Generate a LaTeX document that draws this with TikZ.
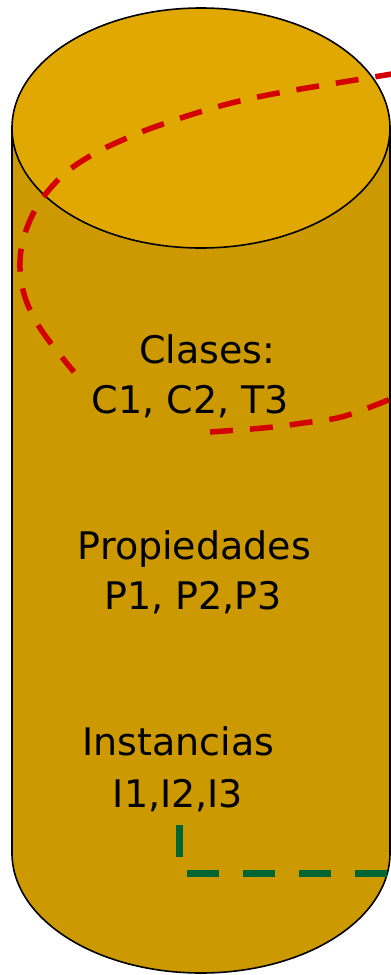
\documentclass[tikz,border=0pt]{standalone}
\usepackage{fontspec}
\setmainfont{DejaVu Sans}
\definecolor{bodyc}{RGB}{204,153,0}
\definecolor{topc}{RGB}{224,168,0}
\definecolor{redc}{RGB}{212,0,0}
\definecolor{greenc}{RGB}{0,102,51}
\begin{document}
\begin{tikzpicture}[x=1pt,y=-1pt,
  outline/.style={draw=black,line width=1.6pt},
  reddash/.style={draw=redc,line width=5.5pt,dash pattern=on 23pt off 17pt},
  greendash/.style={draw=greenc,line width=7pt,dash pattern=on 32pt off 24pt},
  lbl/.style={anchor=base,inner sep=0pt,font=\fontsize{38}{40}\selectfont}]
\useasboundingbox (0,0) rectangle (391,975);
\clip (0,0) rectangle (391,975);
% body
\path[outline,fill=bodyc] (12,128) -- (12,853) arc[start angle=180,end angle=0,x radius=189,y radius=120] -- (390,128) -- cycle;
% top
\path[outline,fill=topc] (201,128) ellipse[x radius=189,y radius=120];
% red dashed curves
\draw[reddash] plot[smooth,tension=0.6] coordinates {(398,73) (337,83) (295,90) (253,98) (213,108) (163,124) (127,138) (90,156) (60,178) (35,210) (21,250) (23,290) (40,328) (74,372)};
\draw[reddash] plot[smooth,tension=0.6] coordinates {(210,432) (263,428) (303,423) (345,416) (398,396)};
% green dashed
\coordinate (g1) at (179,825);
\coordinate (g2) at (179,873);
\coordinate (g3) at (400,873);
\draw[greendash] (g1) -- (g2) -- (g3);
% labels
\node[lbl] (c1) at (207.5,363) {Clases:};
\node[lbl] (c2) at (190.5,413) {C1, C2, T3};
\node[lbl] (p1) at (194.5,559) {Propiedades};
\node[lbl] (p2) at (193,609) {P1, P2,P3};
\node[lbl] (i1) at (178.5,755) {Instancias};
\node[lbl] (i2) at (178,807) {I1,I2,I3};
\end{tikzpicture}
\end{document}
